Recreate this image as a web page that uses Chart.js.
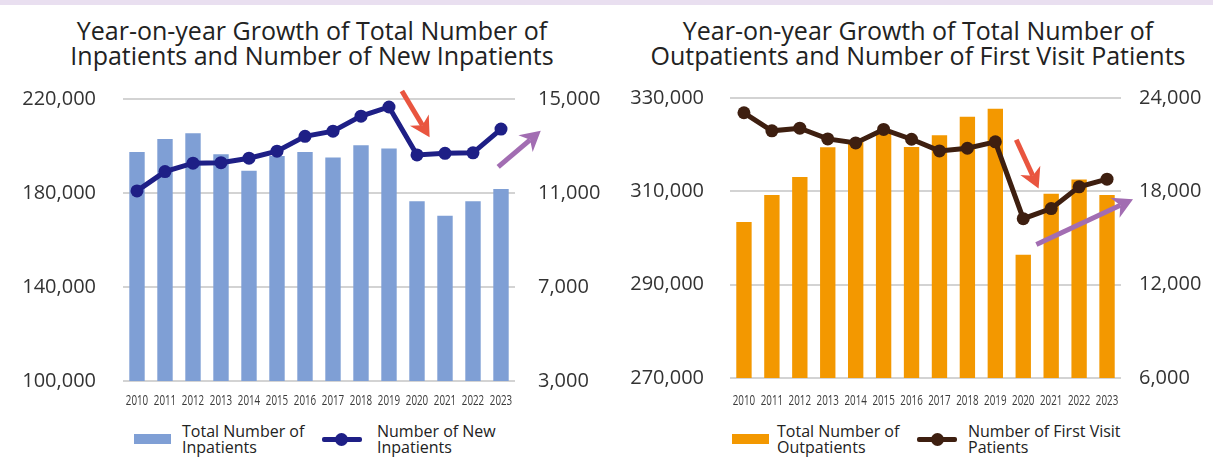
<!DOCTYPE html>
<html>
<head>
<meta charset="utf-8">
<script src="https://cdn.jsdelivr.net/npm/chart.js@4.4.1/dist/chart.umd.min.js"></script>
<style>
  body { margin: 0; width: 1213px; height: 463px; background: #fff; position: relative; overflow: hidden;
         font-family: "Open Sans", "Noto Sans", sans-serif; color: #222; }
  .band { position: absolute; left: 0; top: 0; width: 1213px; height: 5px; background: #e9dff0; }
  .title { position: absolute; top: 18px; font-size: 25px; line-height: 25px; text-align: center; white-space: nowrap; }
  .wrap { position: absolute; top: 60px; height: 360px; }
  .lg-text { position: absolute; top: 423px; font-size: 16px; line-height: 16px; white-space: nowrap; }
  .lg-box { position: absolute; top: 434px; width: 37px; height: 10px; }
  .lg-line { position: absolute; top: 437px; width: 40px; height: 5px; border-radius: 2px; }
  .lg-dot { position: absolute; top: 433px; width: 13px; height: 13px; border-radius: 50%; }
</style>
</head>
<body>
<div class="band"></div>

<div class="title" style="left:12px;width:600px">Year-on-year Growth of Total Number of<br>Inpatients and Number of New Inpatients</div>
<div class="title" style="left:618px;width:600px">Year-on-year Growth of Total Number of<br>Outpatients and Number of First Visit Patients</div>

<div class="wrap" style="left:0;width:606px"><canvas id="inChart"></canvas></div>
<div class="wrap" style="left:606px;width:607px"><canvas id="outChart"></canvas></div>

<!-- legends -->
<div class="lg-box" style="left:134px;background:#7f9fd5"></div>
<div class="lg-text" style="left:182px">Total Number of<br>Inpatients</div>
<div class="lg-line" style="left:322px;background:#1e1f86"></div>
<div class="lg-dot" style="left:335px;background:#1e1f86"></div>
<div class="lg-text" style="left:377px">Number of New<br>Inpatients</div>

<div class="lg-box" style="left:732px;background:#f39800"></div>
<div class="lg-text" style="left:777px">Total Number of<br>Outpatients</div>
<div class="lg-line" style="left:917px;background:#3e1f10"></div>
<div class="lg-dot" style="left:931px;background:#3e1f10"></div>
<div class="lg-text" style="left:968px">Number of First Visit<br>Patients</div>

<script>
// data
const years = ['2010','2011','2012','2013','2014','2015','2016','2017','2018','2019','2020','2021','2022','2023'];

const totalInpatients = [197400, 203000, 205400, 196500, 189500, 195700, 197500, 195100, 200300, 198900, 176500, 170300, 176500, 181700];
const newInpatients   = [11090, 11910, 12270, 12290, 12480, 12780, 13410, 13630, 14270, 14660, 12620, 12690, 12710, 13720];

const totalOutpatients = [303450, 309200, 313050, 319450, 320800, 322300, 319500, 322000, 326000, 327700, 296400, 309500, 312550, 309200];
const firstVisits      = [23050, 21890, 22060, 21370, 21110, 21980, 21350, 20600, 20770, 21180, 16240, 16890, 18290, 18780];

const inLeftTicks  = [100000, 220000, 40000];   // min, max, step
const inRightTicks = [3000, 15000, 4000];
const outLeftTicks  = [270000, 330000, 20000];
const outRightTicks = [6000, 24000, 6000];

// trend arrows in data space: [categoryIndex, value] on the right axis
const inArrows = [
  { from: [9.46, 15340], to: [10.45, 13370], color: '#e9553f' },
  { from: [12.90, 12110], to: [14.42, 13650], color: '#a26db2' }
];
const outArrows = [
  { from: [9.75, 21320], to: [10.55, 18180], color: '#e9553f' },
  { from: [10.47, 14580], to: [13.93, 17490], color: '#a26db2' }
];

const fmt = v => v.toLocaleString('en-US');

function drawArrow(ctx, x0, y0, x1, y1, color) {
  const a = Math.atan2(y1 - y0, x1 - x0);
  const cos = Math.cos(a), sin = Math.sin(a);
  const head = 20, half = 11, notch = 6;
  const bx = x1 - head * cos, by = y1 - head * sin;
  ctx.save();
  ctx.strokeStyle = color;
  ctx.fillStyle = color;
  ctx.lineWidth = 5;
  ctx.beginPath();
  ctx.moveTo(x0, y0);
  ctx.lineTo(bx + notch * cos, by + notch * sin);
  ctx.stroke();
  ctx.beginPath();
  ctx.moveTo(x1, y1);
  ctx.lineTo(bx + half * sin, by - half * cos);
  ctx.lineTo(bx + notch * cos, by + notch * sin);
  ctx.lineTo(bx - half * sin, by + half * cos);
  ctx.closePath();
  ctx.fill();
  ctx.restore();
}

const arrowPlugin = {
  id: 'trendArrows',
  afterDatasetsDraw(chart, args, opts) {
    const xs = chart.scales.x, ys = chart.scales.y1;
    (opts.items || []).forEach(it => {
      drawArrow(chart.ctx,
        xs.getPixelForValue(it.from[0]), ys.getPixelForValue(it.from[1]),
        xs.getPixelForValue(it.to[0]), ys.getPixelForValue(it.to[1]), it.color);
    });
  }
};

// year labels in a condensed look (no narrow face installed, so squeeze horizontally)
const yearLabels = {
  id: 'yearLabels',
  afterDraw(chart, args, opts) {
    const xs = chart.scales.x, ctx = chart.ctx;
    const y = chart.chartArea.bottom + opts.offset;
    ctx.save();
    ctx.font = '14px "Open Sans", sans-serif';
    ctx.fillStyle = '#3a3a3a';
    ctx.textAlign = 'center';
    ctx.textBaseline = 'middle';
    xs.ticks.forEach((t, i) => {
      ctx.save();
      ctx.translate(xs.getPixelForTick(i), y);
      ctx.scale(0.7, 1);
      ctx.fillText(xs.getLabelForValue(t.value), 0, 0);
      ctx.restore();
    });
    ctx.restore();
  }
};

function makeChart(id, cfg) {
  return new Chart(document.getElementById(id), {
    type: 'bar',
    data: {
      labels: years,
      datasets: [
        {
          type: 'line',
          data: cfg.line,
          yAxisID: 'y1',
          borderColor: cfg.lineColor,
          backgroundColor: cfg.lineColor,
          borderWidth: 5,
          pointRadius: 6.5,
          pointBorderWidth: 0,
          tension: 0,
          order: 0
        },
        {
          data: cfg.bars,
          yAxisID: 'y',
          backgroundColor: cfg.barColor,
          barPercentage: 0.55,
          categoryPercentage: 1,
          order: 1
        }
      ]
    },
    plugins: [arrowPlugin, yearLabels],
    options: {
      responsive: true,
      maintainAspectRatio: false,
      animation: false,
      layout: { padding: { top: cfg.padTop, left: 0, right: 0, bottom: 0 } },
      plugins: {
        legend: { display: false },
        tooltip: { enabled: false },
        trendArrows: { items: cfg.arrows },
        yearLabels: { offset: cfg.xOffset }
      },
      scales: {
        x: {
          grid: { display: false },
          border: { display: false },
          ticks: { display: false },
          afterFit: s => { s.height = cfg.xHeight; }
        },
        y: {
          position: 'left',
          min: cfg.leftTicks[0], max: cfg.leftTicks[1],
          grid: { color: '#d3d3d3', lineWidth: 2, drawTicks: false },
          border: { display: false },
          ticks: {
            stepSize: cfg.leftTicks[2], padding: cfg.yPad, color: '#333',
            font: { family: '"Open Sans", sans-serif', size: 20 },
            callback: v => fmt(v)
          },
          afterFit: s => { s.width = cfg.yWidth; }
        },
        y1: {
          position: 'right',
          min: cfg.rightTicks[0], max: cfg.rightTicks[1],
          grid: { display: false, drawTicks: false },
          border: { display: false },
          ticks: {
            stepSize: cfg.rightTicks[2], padding: cfg.y1Pad, color: '#333',
            font: { family: '"Open Sans", sans-serif', size: 20 },
            callback: v => fmt(v)
          },
          afterFit: s => { s.width = cfg.y1Width; }
        }
      }
    }
  });
}

makeChart('inChart', {
  bars: totalInpatients, line: newInpatients,
  barColor: '#7f9fd5', lineColor: '#1e1f86',
  leftTicks: inLeftTicks, rightTicks: inRightTicks, arrows: inArrows,
  padTop: 17, xHeight: 37, xOffset: 20, yWidth: 123, yPad: 27, y1Width: 91, y1Pad: 23
});

makeChart('outChart', {
  bars: totalOutpatients, line: firstVisits,
  barColor: '#f39800', lineColor: '#3e1f10',
  leftTicks: outLeftTicks, rightTicks: outRightTicks, arrows: outArrows,
  padTop: 19, xHeight: 42, xOffset: 23, yWidth: 124, yPad: 26, y1Width: 92, y1Pad: 18
});
</script>
</body>
</html>
